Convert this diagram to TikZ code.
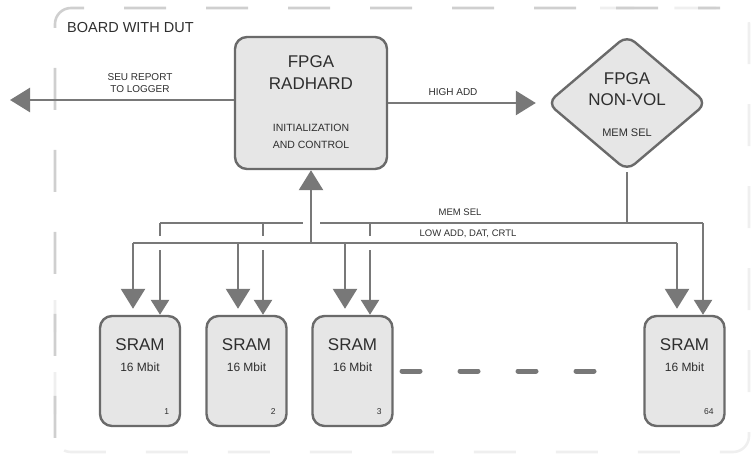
\documentclass[tikz,border=0pt]{standalone}
\usepackage{fontspec}
\setmainfont{Liberation Sans}
\usetikzlibrary{arrows.meta,shapes.geometric}
\definecolor{ln}{HTML}{787878}
\definecolor{bd}{HTML}{6A6A6A}
\definecolor{fl}{HTML}{E6E6E6}
\definecolor{fr}{HTML}{CFCFCF}
\definecolor{frl}{HTML}{EFEFEF}
\definecolor{tx}{HTML}{2E2E2E}
\tikzset{
  blk/.style={draw=bd, fill=fl, line width=2.4pt, rounded corners=12pt, inner sep=0pt},
  sram/.style={blk, minimum width=80pt, minimum height=110pt},
  wire/.style={draw=ln, line width=2.6pt},
  bigarr/.style={wire, -{Triangle[length=20pt,width=24pt]}},
  smallarr/.style={wire, -{Triangle[length=15pt,width=18pt]}},
  lbl/.style={text=tx, inner sep=0pt, align=center},
  framestyle/.style={line width=2.6pt, dash pattern=on 42pt off 40pt, rounded corners=16pt},
}
\begin{document}
\begin{tikzpicture}[x=1pt,y=-1pt]
\useasboundingbox (0,0) rectangle (754,457);
% board frame
\draw[frl, framestyle, dash phase=10pt] (55,300) -- (55,452) -- (749,452) -- (749,8) -- (600,8);
\draw[fr, framestyle, dash phase=20pt] (720,8) -- (55,8) -- (55,452);
\node[lbl, anchor=west, font=\fontsize{14.5}{16}\selectfont] (board) at (67,28) {BOARD WITH DUT};

% main blocks
\node[blk, minimum width=152pt, minimum height=132pt] (radhard) at (311,103) {};
\node[lbl, font=\fontsize{17}{22}\selectfont] (rhtitle) at (311,73) {FPGA\\RADHARD};
\node[lbl, font=\fontsize{10.5}{17}\selectfont] (rhsub) at (311,136) {INITIALIZATION\\AND CONTROL};

\node[draw=bd, fill=fl, line width=2.4pt, diamond, rounded corners=10pt, inner sep=0pt,
      minimum width=160pt, minimum height=136pt, shape aspect=1.18] (nonvol) at (627,103) {};
\node[lbl, font=\fontsize{17}{21}\selectfont] (nvtitle) at (627,89) {FPGA\\NON-VOL};
\node[lbl, font=\fontsize{11}{13}\selectfont] (nvsub) at (627,133) {MEM SEL};

% SRAMs
\foreach \n/\x/\num in {s1/140/1, s2/246.5/2, s3/352.5/3, s4/684.5/64}{
  \node[sram] (\n) at (\x,371) {};
  \node[lbl, font=\fontsize{17}{19}\selectfont] (\n t) at (\x,345) {SRAM};
  \node[lbl, font=\fontsize{12}{14}\selectfont] (\n m) at (\x,367) {16 Mbit};
  \node[lbl, font=\fontsize{8.5}{10}\selectfont, anchor=east] (\n n) at ([xshift=-12pt,yshift=16pt]\n.south east) {\num};
}

% ellipsis dashes
\foreach \x in {400,458,516,574}{
  \draw[ln, line width=5pt, line cap=round] (\x+2,371) -- (\x+20,371);
}

% coordinates
\coordinate (logger) at (10,100);
\coordinate (msL) at (160,223);
\coordinate (msR) at (703,223);
\coordinate (msJ) at (627,223);
\coordinate (laL) at (133,243);
\coordinate (laR) at (677,243);
\coordinate (laJ) at (311,243);

% SEU and HIGH ADD
\draw[bigarr] (radhard.west |- logger) -- (logger);
\node[lbl, font=\fontsize{10}{11.5}\selectfont] (seu) at (140,83) {SEU REPORT\\TO LOGGER};
\draw[bigarr, shorten >=10pt] (radhard.east) -- (nonvol.west);
\node[lbl, font=\fontsize{10}{11}\selectfont] (high) at (453,92) {HIGH ADD};

% MEM SEL bus
\draw[wire] (nonvol.south) -- (msJ);
\draw[wire] (msL) -- (303,223);
\draw[wire] (320,223) -- (msR);
\draw[smallarr] (msR) -- (s4.north -| msR);
\draw[wire] (msL) -- (160,236);
\draw[smallarr] (160,250) -- (s1.north -| msL);
\draw[wire] (263,223) -- (263,236);
\draw[smallarr] (263,250) -- (s2.north -| 263,0);
\draw[wire] (370,223) -- (370,236);
\draw[smallarr] (370,250) -- (s3.north -| 370,0);
\node[lbl, font=\fontsize{9.5}{11}\selectfont] (mslbl) at (460,212) {MEM SEL};

% LOW ADD bus
\draw[wire] (laL) -- (laR);
\draw[bigarr] (laJ) -- (radhard.south);
\draw[bigarr, shorten >=6pt] (laL) -- (s1.north -| laL);
\draw[bigarr, shorten >=6pt] (238,243) -- (s2.north -| 238,0);
\draw[bigarr, shorten >=6pt] (345,243) -- (s3.north -| 345,0);
\draw[bigarr, shorten >=6pt] (laR) -- (s4.north -| laR);
\node[lbl, font=\fontsize{9.5}{11}\selectfont] (lalbl) at (468,234) {LOW ADD, DAT, CRTL};
\end{tikzpicture}
\end{document}
